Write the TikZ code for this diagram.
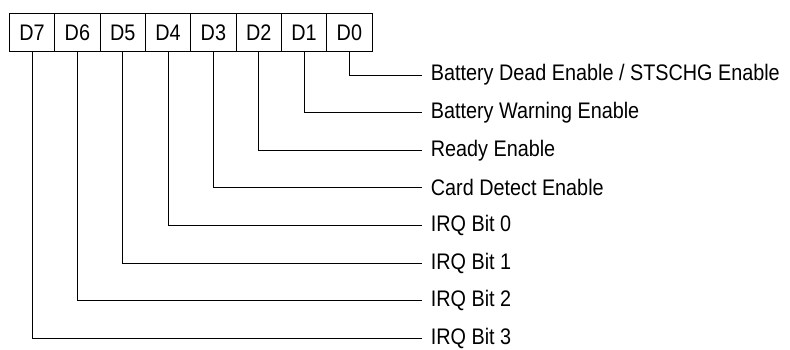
\documentclass[tikz,border=0pt]{standalone}
\usepackage{fontspec}
\setmainfont{Liberation Sans}[FakeStretch=0.88]
\begin{document}
\begin{tikzpicture}[x=1pt,y=-1pt,
  cell/.style={draw,line width=0.8pt,minimum width=45.33pt,minimum height=38pt,inner sep=0pt,anchor=north west,font=\fontsize{22.5}{26}\selectfont},
  lbl/.style={anchor=west,inner xsep=9pt,inner ysep=0pt,font=\fontsize{22.5}{26}\selectfont},
  conn/.style={line width=0.8pt}]
\useasboundingbox (0,0) rectangle (790,349);
\foreach \i in {0,...,7}{
  \pgfmathsetmacro{\xx}{9+(7-\i)*45.33}
  \node[cell] (d\i) at (\xx,13) {D\i};
}
\node[lbl] (l0) at (421.7,75) {Battery Dead Enable / STSCHG Enable};
\node[lbl] (l1) at (421.7,112.6) {Battery Warning Enable};
\node[lbl] (l2) at (421.7,150.2) {Ready Enable};
\node[lbl] (l3) at (421.7,187.8) {Card Detect Enable};
\node[lbl] (l4) at (421.7,225.4) {IRQ Bit 0};
\node[lbl] (l5) at (421.7,263) {IRQ Bit 1};
\node[lbl] (l6) at (421.7,300.6) {IRQ Bit 2};
\node[lbl] (l7) at (421.7,338.2) {IRQ Bit 3};
\foreach \i in {0,...,7}{
  \draw[conn] (d\i.south) |- (l\i.west);
}
\end{tikzpicture}
\end{document}
